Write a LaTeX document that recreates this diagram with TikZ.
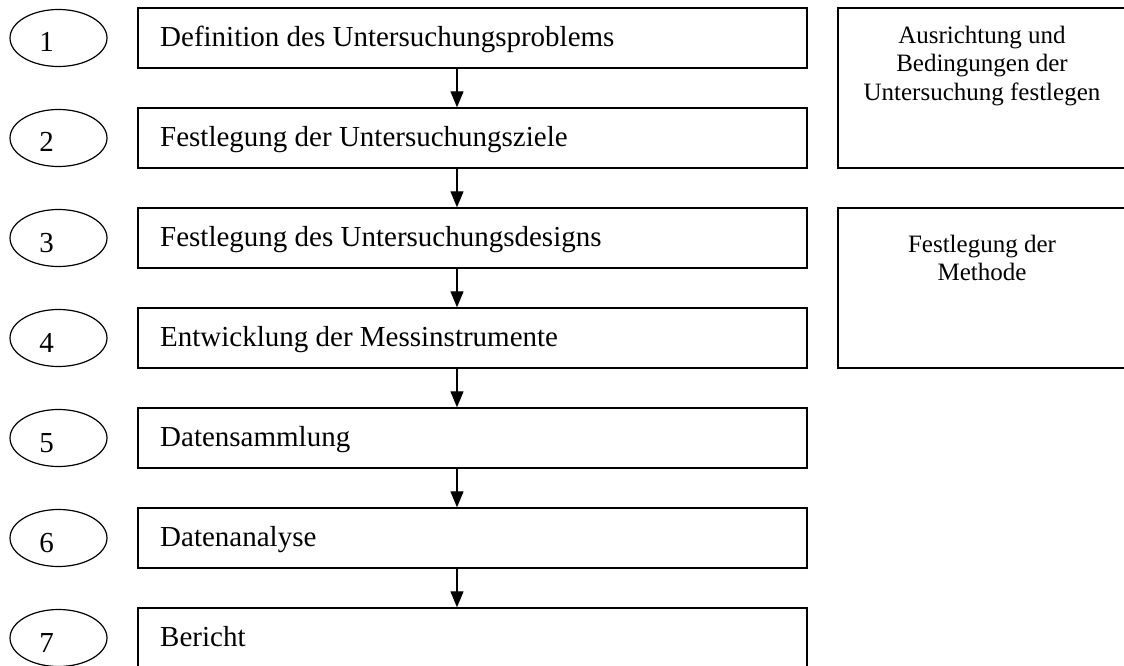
\documentclass[tikz,border=0pt]{standalone}
\usepackage{fontspec}
\setmainfont{Liberation Serif}
\usetikzlibrary{arrows.meta,shapes.geometric}
\begin{document}
\begin{tikzpicture}[x=1pt,y=-1pt,
  stepbox/.style={draw,line width=1.4pt,inner sep=0pt,minimum width=669pt,minimum height=60pt},
  numell/.style={draw,line width=1.2pt,ellipse,inner sep=0pt,minimum width=97pt,minimum height=57pt},
  sidebox/.style={draw,line width=1.4pt,inner sep=0pt,minimum width=288pt,minimum height=160pt},
  maintext/.style={anchor=base west,inner sep=0pt,font=\fontsize{29}{34}\selectfont},
  numtext/.style={anchor=base,inner sep=0pt,font=\fontsize{29}{34}\selectfont},
  sidetext/.style={anchor=base,inner sep=0pt,align=center,font=\fontsize{25}{28.5}\selectfont},
  flow/.style={line width=1.3pt,-{Triangle[length=16pt,width=13pt]}}]
\useasboundingbox (0,0) rectangle (1124,666);
\clip (0,0) rectangle (1124,666);
\coordinate (ax) at (457,0);
% main step boxes
\foreach \i/\txt in {1/Definition des Untersuchungsproblems,
                     2/Festlegung der Untersuchungsziele,
                     3/Festlegung des Untersuchungsdesigns,
                     4/Entwicklung der Messinstrumente,
                     5/Datensammlung,
                     6/Datenanalyse,
                     7/Bericht}{
  \node[stepbox] (s\i) at (472.5,{38+100*(\i-1)}) {};
  \node[maintext] (t\i) at (160,{46.5+100*(\i-1)}) {\txt};
  \node[numell] (e\i) at (58.5,{38+100*(\i-1)}) {};
  \node[numtext] (n\i) at (46.5,{52+100*(\i-1)}) {\i};
}
% arrows
\foreach \i/\j in {1/2,2/3,3/4,4/5,5/6,6/7}{
  \draw[flow] (ax |- s\i.south) -- (ax |- s\j.north);
}
% side boxes
\node[sidebox] (r1) at (982,88) {};
\node[sidetext] (rt1) at (982,100.5) {Ausrichtung und\\Bedingungen der\\Untersuchung festlegen};
\node[sidebox] (r2) at (982,288) {};
\node[sidetext] (rt2) at (982,280.5) {Festlegung der\\Methode};
\end{tikzpicture}
\end{document}
